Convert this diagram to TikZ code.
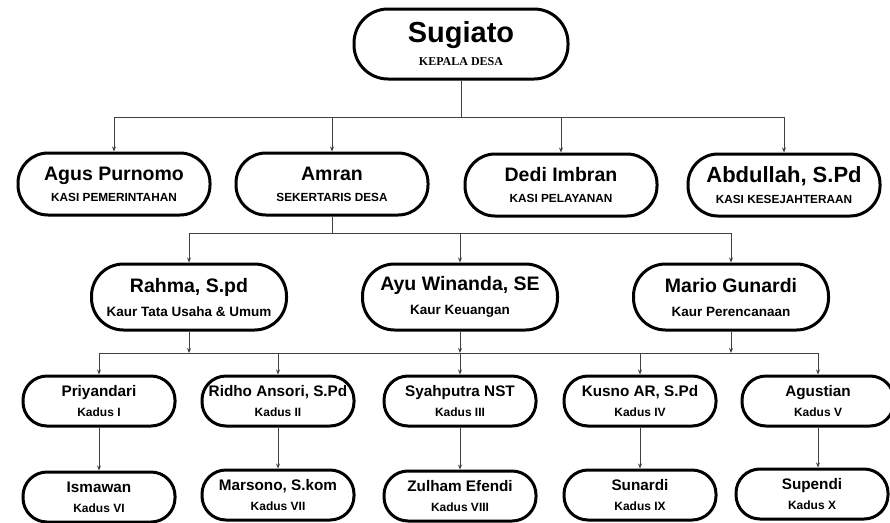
\documentclass[tikz,border=0pt]{standalone}
\usepackage{fontspec}
\setmainfont{Liberation Sans}
\newfontfamily\jabserif{Liberation Serif}
\usetikzlibrary{arrows.meta}
\tikzstyle{kotak}=[draw=black,line width=3pt,align=center,inner sep=0pt,text=black]
\tikzstyle{kades}=[kotak,minimum width=214pt,minimum height=70pt,rounded corners=34pt,font=\bfseries\fontsize{29}{23}\selectfont]
\tikzstyle{kasi}=[kotak,minimum width=192pt,minimum height=62pt,rounded corners=30pt,font=\bfseries\fontsize{19.5}{21}\selectfont]
\tikzstyle{kaur}=[kotak,minimum width=195pt,minimum height=66pt,rounded corners=32pt,font=\bfseries\fontsize{19.5}{24}\selectfont]
\tikzstyle{kadus}=[kotak,minimum width=152pt,minimum height=50pt,rounded corners=24pt,font=\bfseries\fontsize{15.3}{20}\selectfont]
\tikzstyle{garis}=[draw=black!75,line width=0.9pt,-{Stealth[length=5pt,width=4pt]}]
\tikzstyle{bus}=[draw=black!75,line width=0.9pt]

\begin{document}
\begin{tikzpicture}[x=1pt,y=-1pt]
  \useasboundingbox (0,0) rectangle (890,522);
  % kepala desa
  \node[kades] (sugiato) at (461,44) {Sugiato\\ {\jabserif\fontsize{12}{14}\selectfont KEPALA DESA}};
  % kasi dan sekdes
  \node[kasi] (agus) at (114,184) {Agus Purnomo\\ {\fontsize{11.8}{12}\selectfont KASI PEMERINTAHAN}};
  \node[kasi] (amran) at (332,184) {Amran\\ {\fontsize{11.8}{12}\selectfont SEKERTARIS DESA}};
  \node[kasi] (dedi) at (561,185) {Dedi Imbran\\ {\fontsize{11.8}{12}\selectfont KASI PELAYANAN}};
  \node[kasi] (abdullah) at (784,185) {{\fontsize{22}{22}\selectfont Abdullah, S.Pd}\\ {\fontsize{11.8}{12}\selectfont KASI KESEJAHTERAAN}};
  % kaur
  \node[kaur] (rahma) at (189,297) {Rahma, S.pd\\ {\fontsize{13.5}{13}\selectfont Kaur Tata Usaha \& Umum}};
  \node[kaur] (ayu) at (460,297) {Ayu Winanda, SE\\ {\fontsize{13.5}{13}\selectfont Kaur Keuangan}};
  \node[kaur] (mario) at (731,297) {Mario Gunardi\\ {\fontsize{13.5}{13}\selectfont Kaur Perencanaan}};
  % kadus I - V
  \node[kadus] (priyandari) at (99,401) {Priyandari\\ {\fontsize{12}{12}\selectfont Kadus I}};
  \node[kadus] (ridho) at (278,401) {Ridho Ansori, S.Pd\\ {\fontsize{12}{12}\selectfont Kadus II}};
  \node[kadus] (syahputra) at (460,401) {Syahputra NST\\ {\fontsize{12}{12}\selectfont Kadus III}};
  \node[kadus] (kusno) at (640,401) {Kusno AR, S.Pd\\ {\fontsize{12}{12}\selectfont Kadus IV}};
  \node[kadus] (agustian) at (818,401) {Agustian\\ {\fontsize{12}{12}\selectfont Kadus V}};
  % kadus VI - X
  \node[kadus] (ismawan) at (99,497) {Ismawan\\ {\fontsize{12}{12}\selectfont Kadus VI}};
  \node[kadus] (marsono) at (278,495) {Marsono, S.kom\\ {\fontsize{12}{12}\selectfont Kadus VII}};
  \node[kadus] (zulham) at (460,496) {Zulham Efendi\\ {\fontsize{12}{12}\selectfont Kadus VIII}};
  \node[kadus] (sunardi) at (640,495) {Sunardi\\ {\fontsize{12}{12}\selectfont Kadus IX}};
  \node[kadus] (supendi) at (812,494) {Supendi\\ {\fontsize{12}{12}\selectfont Kadus X}};

  \coordinate (bus1) at (0,117);
  \coordinate (bus2) at (0,233);
  \coordinate (bus3) at (0,353);

  \foreach \n in {agus,amran,dedi,abdullah}
    \draw[garis] (sugiato.south) -- (sugiato.south |- bus1) -| (\n.north);
  \foreach \n in {rahma,ayu,mario}
    \draw[garis] (amran.south) -- (amran.south |- bus2) -| (\n.north);
  \foreach \n in {rahma,ayu,mario}
    \draw[garis] (\n.south) -- (\n.south |- bus3);
  \draw[bus] (priyandari.north |- bus3) -- (agustian.north |- bus3);
  \foreach \n in {priyandari,ridho,syahputra,kusno,agustian}
    \draw[garis] (\n.north |- bus3) -- (\n.north);
  % kadus bawah
  \draw[garis] (priyandari.south) -- (priyandari.south |- ismawan.north);
  \draw[garis] (ridho.south) -- (ridho.south |- marsono.north);
  \draw[garis] (syahputra.south) -- (syahputra.south |- zulham.north);
  \draw[garis] (kusno.south) -- (kusno.south |- sunardi.north);
  \draw[garis] (agustian.south) -- (agustian.south |- supendi.north);
\end{tikzpicture}
\end{document}
